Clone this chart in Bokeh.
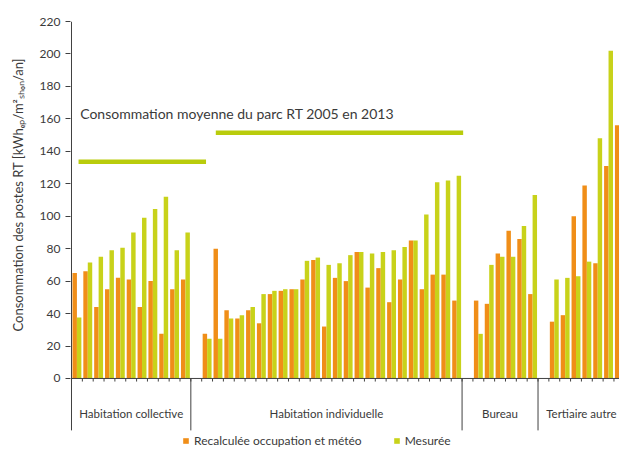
from bokeh.plotting import figure
from bokeh.models import FixedTicker, Legend, LegendItem, Range1d, ColumnDataSource, Title
from bokeh.core.properties import value
from bokeh.embed import file_html
from bokeh.resources import INLINE

# ---------------- data ----------------
groups = ["Habitation collective", "Habitation individuelle", "Bureau", "Tertiaire autre"]

recalc_collective = [65, 66, 44, 55, 62, 61, 44, 60, 27.5, 55, 61]
mesuree_collective = [37.5, 71.5, 75, 79, 80.5, 90, 99, 104.5, 112, 79, 90]

recalc_individuelle = [27.5, 80, 42, 37, 42, 34, 52, 54, 55, 61, 73, 32,
                       62, 60, 78, 56, 68, 47, 61, 85, 55, 64, 64, 48]
mesuree_individuelle = [24.5, 24.5, 37, 39, 44, 52, 54, 55, 55, 72.5, 74.5, 70,
                        71, 76, 78, 77, 78, 79, 81, 85, 101, 121, 122, 125]

recalc_bureau = [48, 46, 77, 91, 86, 52]
mesuree_bureau = [27.5, 70, 75, 75, 94, 113]

recalc_tertiaire = [35, 39, 100, 119, 71, 131, 156]
mesuree_tertiaire = [61, 62, 63, 72, 148, 202, 215]

recalc = [recalc_collective, recalc_individuelle, recalc_bureau, recalc_tertiaire]
mesuree = [mesuree_collective, mesuree_individuelle, mesuree_bureau, mesuree_tertiaire]

series_names = ["Recalculée occupation et météo", "Mesurée"]
y_ticks = [0, 20, 40, 60, 80, 100, 120, 140, 160, 180, 200, 220]

avg_label = "Consommation moyenne du parc RT 2005 en 2013"
avg_values = [133.5, 151.5]
avg_start = [0.65, 13.3]
avg_end = [12.4, 36.1]

y_title = "Consommation des postes RT [kWhₑₚ/m²ₛₕₒₙ/an]"

# ---------------- layout of slots ----------------
centers, r_top, m_top = [], [], []
bounds = [0]
group_centers = []
slot = 0
for gi, (rs, ms) in enumerate(zip(recalc, mesuree)):
    start = slot
    if gi > 0:
        slot += 1  # empty category before each following group
    for a, b in zip(rs, ms):
        centers.append(slot + 0.5)
        r_top.append(a)
        m_top.append(b)
        slot += 1
    bounds.append(slot)
    group_centers.append((start + slot) / 2)

BW = 0.41
src = ColumnDataSource(dict(
    xr=[c - BW / 2 for c in centers],
    xm=[c + BW / 2 for c in centers],
    r=r_top, m=m_top))

ORANGE = "#F08E18"
GREEN = "#C8D21A"
LINE_GREEN = "#B9CC0C"
TXT = "#3a3a3a"
AX = "#404040"

p = figure(width=619, height=450, output_backend="svg", toolbar_location=None,
           x_range=Range1d(-0.092, 50.51), y_range=Range1d(-44.4, 220),
           x_axis_location=None, y_axis_location="left",
           min_border_left=70, min_border_right=0, min_border_top=21, min_border_bottom=0)
p.outline_line_color = None
p.grid.visible = False
p.background_fill_color = "white"
p.border_fill_color = "white"

ax = p.yaxis[0]
ax.ticker = FixedTicker(ticks=y_ticks)
ax.axis_line_color = None
ax.major_tick_out = 5
ax.major_tick_in = 0
ax.minor_tick_line_color = None
ax.major_tick_line_color = AX
ax.major_label_standoff = 5
ax.major_label_text_font = "Lato"
ax.major_label_text_font_size = "12px"
ax.major_label_text_color = TXT

# y-axis title, as a side title
p.add_layout(Title(text=y_title, align="left", offset=119, standoff=18,
                   vertical_align="top", text_font="Lato", text_font_size="13px",
                   text_font_style="normal", text_color=TXT), "left")

# bars
r1 = p.vbar(x="xr", top="r", width=BW, bottom=0, source=src,
            fill_color=ORANGE, line_color=None)
r2 = p.vbar(x="xm", top="m", width=BW, bottom=0, source=src,
            fill_color=GREEN, line_color=None)

# average lines
p.segment(x0=avg_start, y0=avg_values, x1=avg_end, y1=avg_values,
          line_color=LINE_GREEN, line_width=4.5)
p.text(x=[0.8], y=[163], text=[avg_label], text_font=value("Lato"),
       text_font_size="14px", text_color=TXT, text_align="left", text_baseline="middle")

# axes lines drawn as data segments
SEP_LOW = -32
last = bounds[-1]
p.segment(x0=[0], y0=[SEP_LOW], x1=[0], y1=[220], line_color=AX, line_width=1)
p.segment(x0=[0], y0=[0], x1=[last], y1=[0], line_color=AX, line_width=1)
ticks_x = list(range(0, last + 1))
p.segment(x0=ticks_x, y0=[0] * len(ticks_x), x1=ticks_x, y1=[-1.9] * len(ticks_x),
          line_color=AX, line_width=1)
p.segment(x0=bounds[1:], y0=[0] * (len(bounds) - 1), x1=bounds[1:],
          y1=[SEP_LOW] * (len(bounds) - 1), line_color=AX, line_width=1)

p.text(x=group_centers, y=[-21.6] * len(groups), text=groups, text_font=value("Lato"),
       text_font_size="11.5px", text_color=TXT, text_align="center", text_baseline="middle")

legend = Legend(items=[LegendItem(label=series_names[0], renderers=[r1]),
                       LegendItem(label=series_names[1], renderers=[r2])],
                orientation="horizontal", location=(112, 2),
                glyph_width=7, glyph_height=7, label_height=10, label_standoff=5,
                spacing=31, padding=0, margin=0,
                label_text_font="Lato", label_text_font_size="12px", label_text_color=TXT,
                background_fill_alpha=0, border_line_alpha=0)
p.add_layout(legend)

open("out.html", "w").write(file_html(p, INLINE))
